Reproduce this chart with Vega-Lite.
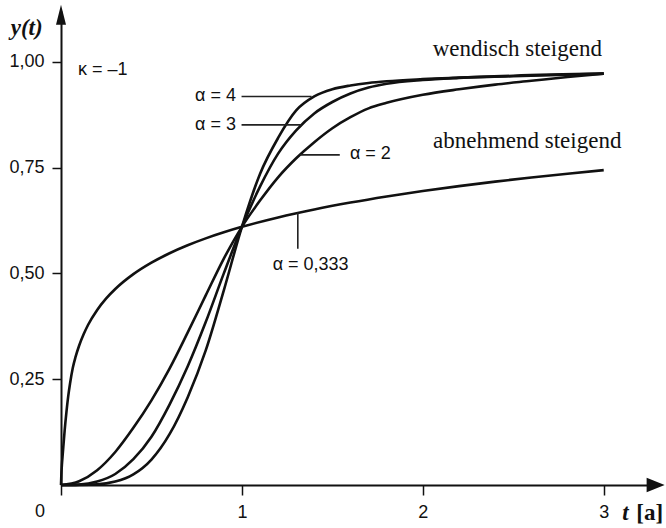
{
  "$schema": "https://vega.github.io/schema/vega-lite/v6.json",
  "width": 597,
  "height": 474,
  "autosize": {"type": "none"},
  "padding": {"left": 61, "top": 11, "right": 8, "bottom": 43},
  "background": "white",
  "config": {"view": {"stroke": null}},
  "datasets": {
    "curves": [
      {"a":"0.333","t":0,"y":0},{"a":"0.333","t":0.002,"y":0.025},{"a":"0.333","t":0.005,"y":0.048},{"a":"0.333","t":0.01,"y":0.075},{"a":"0.333","t":0.02,"y":0.128},{"a":"0.333","t":0.03,"y":0.172},{"a":"0.333","t":0.04,"y":0.21},{"a":"0.333","t":0.05,"y":0.24},{"a":"0.333","t":0.065,"y":0.2766},{"a":"0.333","t":0.08,"y":0.302},{"a":"0.333","t":0.1,"y":0.329},{"a":"0.333","t":0.125,"y":0.356},{"a":"0.333","t":0.15,"y":0.3786},{"a":"0.333","t":0.2,"y":0.4137},{"a":"0.333","t":0.25,"y":0.4409},{"a":"0.333","t":0.3,"y":0.4631},{"a":"0.333","t":0.4,"y":0.4982},{"a":"0.333","t":0.5,"y":0.5254},{"a":"0.333","t":0.6,"y":0.5477},{"a":"0.333","t":0.7,"y":0.5665},{"a":"0.333","t":0.8,"y":0.5828},{"a":"0.333","t":0.9,"y":0.5971},{"a":"0.333","t":1.0,"y":0.61},{"a":"0.333","t":1.2,"y":0.6322},{"a":"0.333","t":1.4,"y":0.651},{"a":"0.333","t":1.6,"y":0.6673},{"a":"0.333","t":1.8,"y":0.6817},{"a":"0.333","t":2.0,"y":0.6946},{"a":"0.333","t":2.2,"y":0.7062},{"a":"0.333","t":2.4,"y":0.7168},{"a":"0.333","t":2.6,"y":0.7266},{"a":"0.333","t":2.8,"y":0.7356},{"a":"0.333","t":3.0,"y":0.744},
      {"a":"2","t":0,"y":0},{"a":"2","t":0.1,"y":0.009},{"a":"2","t":0.2,"y":0.035},{"a":"2","t":0.3,"y":0.078},{"a":"2","t":0.4,"y":0.135},{"a":"2","t":0.5,"y":0.2},{"a":"2","t":0.6,"y":0.275},{"a":"2","t":0.7,"y":0.36},{"a":"2","t":0.8,"y":0.448},{"a":"2","t":0.9,"y":0.535},{"a":"2","t":1.0,"y":0.61},{"a":"2","t":1.1,"y":0.672},{"a":"2","t":1.2,"y":0.727},{"a":"2","t":1.3,"y":0.772},{"a":"2","t":1.4,"y":0.81},{"a":"2","t":1.5,"y":0.843},{"a":"2","t":1.6,"y":0.869},{"a":"2","t":1.7,"y":0.89},{"a":"2","t":1.8,"y":0.903},{"a":"2","t":2.0,"y":0.922},{"a":"2","t":2.2,"y":0.935},{"a":"2","t":2.4,"y":0.946},{"a":"2","t":2.6,"y":0.955},{"a":"2","t":2.8,"y":0.964},{"a":"2","t":3.0,"y":0.972},
      {"a":"3","t":0,"y":0},{"a":"3","t":0.1,"y":0.001},{"a":"3","t":0.2,"y":0.008},{"a":"3","t":0.3,"y":0.026},{"a":"3","t":0.4,"y":0.061},{"a":"3","t":0.5,"y":0.114},{"a":"3","t":0.6,"y":0.19},{"a":"3","t":0.7,"y":0.28},{"a":"3","t":0.8,"y":0.385},{"a":"3","t":0.9,"y":0.5},{"a":"3","t":1.0,"y":0.61},{"a":"3","t":1.1,"y":0.705},{"a":"3","t":1.2,"y":0.783},{"a":"3","t":1.3,"y":0.838},{"a":"3","t":1.4,"y":0.878},{"a":"3","t":1.5,"y":0.905},{"a":"3","t":1.6,"y":0.925},{"a":"3","t":1.7,"y":0.939},{"a":"3","t":1.8,"y":0.948},{"a":"3","t":2.0,"y":0.957},{"a":"3","t":2.2,"y":0.962},{"a":"3","t":2.5,"y":0.967},{"a":"3","t":3.0,"y":0.972},
      {"a":"4","t":0,"y":0},{"a":"4","t":0.2,"y":0.0015},{"a":"4","t":0.3,"y":0.008},{"a":"4","t":0.4,"y":0.025},{"a":"4","t":0.5,"y":0.06},{"a":"4","t":0.6,"y":0.12},{"a":"4","t":0.7,"y":0.207},{"a":"4","t":0.8,"y":0.318},{"a":"4","t":0.9,"y":0.46},{"a":"4","t":1.0,"y":0.61},{"a":"4","t":1.1,"y":0.735},{"a":"4","t":1.2,"y":0.82},{"a":"4","t":1.3,"y":0.885},{"a":"4","t":1.4,"y":0.918},{"a":"4","t":1.5,"y":0.935},{"a":"4","t":1.6,"y":0.944},{"a":"4","t":1.7,"y":0.95},{"a":"4","t":1.8,"y":0.954},{"a":"4","t":2.0,"y":0.959},{"a":"4","t":2.5,"y":0.966},{"a":"4","t":3.0,"y":0.972}
    ],
    "leaders": [
      {"x":0.998,"x2":1.385,"y":0.918,"y2":0.918},
      {"x":0.998,"x2":1.33,"y":0.851,"y2":0.851},
      {"x":1.32,"x2":1.541,"y":0.78,"y2":0.78},
      {"x":1.309,"x2":1.309,"y":0.644,"y2":0.558}
    ],
    "rightLabels": [
      {"text":"α = 4","x":0.967,"y":0.918},
      {"text":"α = 3","x":0.967,"y":0.851}
    ],
    "leftLabels": [
      {"text":"α = 2","x":1.597,"y":0.7825},
      {"text":"α = 0,333","x":1.17,"y":0.52},
      {"text":"κ = –1","x":0.094,"y":0.981}
    ],
    "centerLabels": [
      {"text":"0","x":-0.116,"y":-0.064}
    ],
    "serifLabels": [
      {"text":"wendisch steigend","x":2.522,"y":1.0125},
      {"text":"abnehmend steigend","x":2.577,"y":0.797}
    ],
    "italicTitles": [
      {"text":"y(t)","x":-0.19,"y":1.08},
      {"text":"t","x":3.12,"y":-0.066}
    ],
    "boldTitles": [
      {"text":"[a]","x":3.254,"y":-0.066}
    ],
    "arrowX": [{"x":3.287,"y":0}],
    "arrowY": [{"x":0,"y":1.111}]
  },
  "layer": [
    {
      "data": {"name": "curves"},
      "mark": {"type": "line", "interpolate": "monotone", "color": "#111", "strokeWidth": 2.6, "clip": false},
      "encoding": {
        "x": {"field": "t", "type": "quantitative", "scale": {"domain": [0, 3.3], "nice": false, "zero": false},
          "axis": {"values": [0, 1, 2, 3], "format": "d", "title": null, "grid": false, "domainColor": "#111", "domainWidth": 2, "tickColor": "#111", "tickWidth": 1.5, "tickSize": 10, "labelExpr": "datum.value == 0 ? '' : datum.label", "labelFont": "Liberation Sans", "labelFontSize": 18, "labelColor": "#111", "labelPadding": 8, "labelFlush": false, "labelBound": false}},
        "y": {"field": "y", "type": "quantitative", "scale": {"domain": [0, 1.12], "nice": false, "zero": false},
          "axis": {"values": [0.25, 0.5, 0.75, 1], "title": null, "grid": false, "domainColor": "#111", "domainWidth": 2, "tickColor": "#111", "tickWidth": 1.5, "tickSize": 9, "labelExpr": "replace(format(datum.value, '.2f'), '.', ',')", "labelFont": "Liberation Sans", "labelFontSize": 18, "labelColor": "#111", "labelPadding": 8, "labelFlush": false, "labelBound": false}},
        "detail": {"field": "a", "type": "nominal"}
      }
    },
    {
      "data": {"name": "leaders"},
      "mark": {"type": "rule", "color": "#222", "strokeWidth": 1.6},
      "encoding": {
        "x": {"field": "x", "type": "quantitative"},
        "x2": {"field": "x2"},
        "y": {"field": "y", "type": "quantitative"},
        "y2": {"field": "y2"}
      }
    },
    {
      "data": {"name": "rightLabels"},
      "mark": {"type": "text", "align": "right", "baseline": "middle", "font": "Liberation Sans", "fontSize": 18, "color": "#111"},
      "encoding": {"x": {"field": "x", "type": "quantitative"}, "y": {"field": "y", "type": "quantitative"}, "text": {"field": "text"}}
    },
    {
      "data": {"name": "leftLabels"},
      "mark": {"type": "text", "align": "left", "baseline": "middle", "font": "Liberation Sans", "fontSize": 18, "color": "#111"},
      "encoding": {"x": {"field": "x", "type": "quantitative"}, "y": {"field": "y", "type": "quantitative"}, "text": {"field": "text"}}
    },
    {
      "data": {"name": "centerLabels"},
      "mark": {"type": "text", "align": "center", "baseline": "middle", "font": "Liberation Sans", "fontSize": 18, "color": "#111", "clip": false},
      "encoding": {"x": {"field": "x", "type": "quantitative"}, "y": {"field": "y", "type": "quantitative"}, "text": {"field": "text"}}
    },
    {
      "data": {"name": "serifLabels"},
      "mark": {"type": "text", "align": "center", "baseline": "alphabetic", "font": "Liberation Serif", "fontSize": 23, "color": "#111"},
      "encoding": {"x": {"field": "x", "type": "quantitative"}, "y": {"field": "y", "type": "quantitative"}, "text": {"field": "text"}}
    },
    {
      "data": {"name": "italicTitles"},
      "mark": {"type": "text", "align": "center", "baseline": "middle", "font": "Liberation Serif", "fontSize": 23, "fontStyle": "italic", "fontWeight": "bold", "color": "#111"},
      "encoding": {"x": {"field": "x", "type": "quantitative"}, "y": {"field": "y", "type": "quantitative"}, "text": {"field": "text"}}
    },
    {
      "data": {"name": "boldTitles"},
      "mark": {"type": "text", "align": "center", "baseline": "middle", "font": "Liberation Serif", "fontSize": 23, "fontWeight": "bold", "color": "#111"},
      "encoding": {"x": {"field": "x", "type": "quantitative"}, "y": {"field": "y", "type": "quantitative"}, "text": {"field": "text"}}
    },
    {
      "data": {"name": "arrowX"},
      "mark": {"type": "point", "shape": "M1,0L-1,-0.8L-1,0.8Z", "size": 324, "filled": true, "color": "#111", "opacity": 1},
      "encoding": {"x": {"field": "x", "type": "quantitative"}, "y": {"field": "y", "type": "quantitative"}}
    },
    {
      "data": {"name": "arrowY"},
      "mark": {"type": "point", "shape": "M0,-1L0.5,1L-0.5,1Z", "size": 400, "filled": true, "color": "#111", "opacity": 1},
      "encoding": {"x": {"field": "x", "type": "quantitative"}, "y": {"field": "y", "type": "quantitative"}}
    }
  ]
}
